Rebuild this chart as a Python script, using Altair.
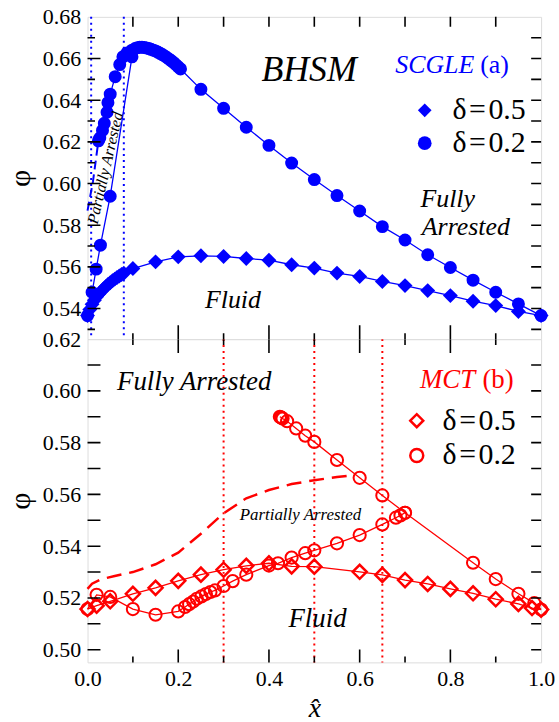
import altair as alt
import pandas as pd

BLUE = "#0000ff"
RED = "#ff0000"
FONT = "Liberation Serif"

W = 456
H_TOP = 324
H_BOT = 325

# ---------------- data ----------------
# (a) SCGLE, delta = 0.5 (filled diamonds)
scgle_d05_x = [0.0, 0.005, 0.01, 0.015, 0.02, 0.025, 0.03, 0.035, 0.04, 0.045, 0.05, 0.055,
               0.06, 0.065, 0.07, 0.075, 0.08, 0.1, 0.15, 0.2, 0.25, 0.3, 0.35, 0.4, 0.45,
               0.5, 0.55, 0.6, 0.65, 0.7, 0.75, 0.8, 0.85, 0.9, 0.95, 1.0]
scgle_d05_phi = [0.5366, 0.5395, 0.5420, 0.5440, 0.5456, 0.5470, 0.5482, 0.5494, 0.5505, 0.5515,
                 0.5524, 0.5533, 0.5541, 0.5549, 0.5556, 0.5563, 0.5569, 0.5592, 0.5624, 0.5648,
                 0.5653, 0.5650, 0.5640, 0.5632, 0.5610, 0.5594, 0.5570, 0.5554, 0.5530, 0.5510,
                 0.5486, 0.5462, 0.5435, 0.5414, 0.5386, 0.5366]

# (a) SCGLE, delta = 0.2: fully arrested branch rising from x = 0
scgle_d02_low_x = [0.0, 0.01, 0.019, 0.0285, 0.05, 0.098]
scgle_d02_low_phi = [0.5366, 0.5478, 0.5589, 0.5704, 0.5939, 0.6608]

# (a) SCGLE, delta = 0.2: upper branch and maximum, decreasing to x = 1
scgle_d02_up_x = [0.024, 0.027, 0.033, 0.037, 0.043, 0.045, 0.05, 0.061, 0.071, 0.078, 0.087, 0.098,
                  0.105, 0.11, 0.115, 0.12, 0.125, 0.13, 0.135, 0.14, 0.145, 0.15, 0.155, 0.16,
                  0.165, 0.17, 0.175, 0.18, 0.185, 0.19, 0.195, 0.2, 0.205,
                  0.25, 0.3, 0.35, 0.4, 0.45, 0.5, 0.55, 0.6, 0.65, 0.7, 0.75, 0.8, 0.85, 0.9,
                  0.95, 1.0]
scgle_d02_up_phi = [0.6205, 0.6218, 0.6255, 0.6289, 0.6342, 0.6388, 0.6429, 0.6513, 0.6571, 0.6608,
                    0.6627, 0.6640, 0.6648, 0.6652, 0.6654, 0.6654, 0.6653, 0.6651, 0.6648, 0.6644,
                    0.6640, 0.6636, 0.6631, 0.6625, 0.6619, 0.6612, 0.6605, 0.6597, 0.6589, 0.6580,
                    0.6570, 0.6560, 0.6550,
                    0.6452, 0.6361, 0.6270, 0.6183, 0.6098, 0.6019, 0.5942, 0.5868, 0.5793, 0.5729,
                    0.5658, 0.5597, 0.5536, 0.5478, 0.5422, 0.5366]

# (a) SCGLE, delta = 0.2: dashed continuation to x = 0
scgle_dash_x = [0.0, 0.012, 0.024]
scgle_dash_phi = [0.5870, 0.6010, 0.6205]

# (a) dotted verticals
scgle_vlines = [0.008, 0.08]

# (b) MCT, delta = 0.5 (open diamonds)
mct_d05_x = [0.0, 0.02, 0.05, 0.1, 0.15, 0.2, 0.25, 0.3, 0.35, 0.4, 0.45, 0.5, 0.6, 0.65, 0.7,
             0.75, 0.8, 0.85, 0.9, 0.95, 0.98, 1.0]
mct_d05_phi = [0.5157, 0.5170, 0.5187, 0.5216, 0.5239, 0.5266, 0.5290, 0.5309, 0.5324, 0.5334,
               0.5322, 0.5321, 0.5301, 0.5289, 0.5269, 0.5254, 0.5235, 0.5218, 0.5195, 0.5177,
               0.5161, 0.5155]

# (b) MCT, delta = 0.2: lower branch
mct_d02_low_x = [0.0, 0.02, 0.05, 0.1, 0.15, 0.2, 0.215, 0.224, 0.233, 0.241, 0.251, 0.261, 0.271,
                 0.281, 0.3, 0.32, 0.35, 0.4, 0.42, 0.45, 0.48, 0.5, 0.55, 0.6, 0.65, 0.68, 0.69, 0.7]
mct_d02_low_phi = [0.5157, 0.5212, 0.5204, 0.5157, 0.5135, 0.5148, 0.5165, 0.5176, 0.5186, 0.5197,
                   0.5206, 0.5215, 0.5223, 0.5229, 0.5246, 0.5265, 0.5290, 0.5325, 0.5334, 0.5356,
                   0.5373, 0.5384, 0.5411, 0.5443, 0.5484, 0.5510, 0.5519, 0.5529]

# (b) MCT, delta = 0.2: upper branch
mct_d02_up_x = [0.424, 0.426, 0.428, 0.43, 0.44, 0.46, 0.48, 0.5, 0.55, 0.6, 0.65, 0.7, 0.85, 0.9,
                0.95, 0.985, 1.0]
mct_d02_up_phi = [0.5900, 0.5898, 0.5896, 0.5893, 0.5883, 0.5855, 0.5827, 0.5803, 0.5733, 0.5664,
                  0.5596, 0.5529, 0.5336, 0.5273, 0.5216, 0.5180, 0.5155]

# (b) MCT partially arrested boundary (dashed)
mct_dash_x = [0.0, 0.01, 0.03, 0.06, 0.1, 0.15, 0.2, 0.25, 0.3, 0.35, 0.4, 0.45, 0.5, 0.55, 0.58]
mct_dash_phi = [0.5235, 0.5255, 0.5272, 0.5285, 0.5300, 0.5330, 0.5375, 0.5448, 0.5527, 0.5585,
                0.5617, 0.5640, 0.5655, 0.5667, 0.5673]

# (b) dotted verticals
mct_vlines = [0.3, 0.5, 0.65]

legend_labels = ["δ\u200a=\u200a0.5", "δ\u200a=\u200a0.2"]

# axes: labels and tick positions
x_labels = [0.0, 0.2, 0.4, 0.6, 0.8, 1.0]
x_tick_major = [0.2, 0.4, 0.6, 0.8]
x_tick_minor = [0.1, 0.3, 0.5, 0.7, 0.9]
top_y_labels = [0.54, 0.56, 0.58, 0.60, 0.62, 0.64, 0.66, 0.68]
top_y_major = [0.54, 0.56, 0.58, 0.60, 0.62, 0.64, 0.66]
top_y_minor = [0.53, 0.55, 0.57, 0.59, 0.61, 0.63, 0.65, 0.67]
bot_y_labels = [0.50, 0.52, 0.54, 0.56, 0.58, 0.60, 0.62]
bot_y_major = [0.50, 0.52, 0.54, 0.56, 0.58, 0.60]
bot_y_minor = [0.51, 0.53, 0.55, 0.57, 0.59, 0.61]

TOP_DOMAIN = [0.5253, 0.68]
BOT_DOMAIN = [0.4951, 0.62]

# annotations: (text, x, phi)
top_notes = {
    "bhsm": ("BHSM", 0.4885, 0.6493),
    "scgle": ("SCGLE", 0.6784, 0.6532),
    "a": ("(a)", 0.8656, 0.6532),
    "fully": ("Fully", 0.734, 0.5888),
    "arrested": ("Arrested", 0.737, 0.5753),
    "fluid": ("Fluid", 0.2588, 0.5401),
    "partial": ("Partially Arrested", 0.0394, 0.6075),
}
bot_notes = {
    "fully": ("Fully Arrested", 0.065, 0.6005),
    "mct": ("MCT", 0.733, 0.6011),
    "b": ("(b)", 0.8706, 0.6011),
    "partial": ("Partially Arrested", 0.3355, 0.5501),
    "fluid": ("Fluid", 0.443, 0.5089),
}


def frame(xs, ys, series, delta):
    return pd.DataFrame({"x": xs, "phi": ys, "series": series, "delta": delta,
                         "ord": list(range(len(xs)))})


XSCALE = alt.Scale(domain=[0, 1], nice=False, zero=False)


def y_axis(values, h):
    return alt.Axis(values=values, format=".2f", ticks=False, tickSize=0, domain=False, grid=False,
                    labelFont=FONT, labelFontSize=22, labelColor="black", labelPadding=7,
                    labelOverlap=False,
                    title="φ", titleFont=FONT, titleFontSize=30, titleFontWeight="normal",
                    titleColor="black", titleAngle=270, titleX=-67, titleY=h / 2,
                    titleBaseline="middle", titleAlign="center")


X_AXIS_BOTTOM = alt.Axis(values=x_labels, format=".1f", ticks=False, tickSize=0, domain=False,
                         grid=False, labelFlush=False, labelOverlap=False, labelFont=FONT,
                         labelFontSize=22, labelColor="black", labelPadding=6,
                         title="x\u0302", titleFont=FONT, titleFontSize=28,
                         titleFontStyle="italic", titleFontWeight="normal", titleColor="black",
                         titleY=54, titleX=W / 2, titleBaseline="alphabetic",
                         titleAlign="center")


def panel(yscale, yaxis, xaxis, h, layers_fn):
    X = lambda f="x": alt.X(f"{f}:Q", scale=XSCALE, axis=xaxis)
    Y = lambda f="phi": alt.Y(f"{f}:Q", scale=yscale, axis=yaxis)
    return layers_fn(X, Y)


def ticks_x(vals, X, ypx, L):
    return alt.Chart(pd.DataFrame({"x": vals})).mark_tick(
        orient="vertical", size=2 * L, thickness=1.6, color="black", clip=True, opacity=1
    ).encode(x=X(), y=alt.value(ypx))


def ticks_y(vals, Y, xpx, L):
    return alt.Chart(pd.DataFrame({"phi": vals})).mark_tick(
        orient="horizontal", size=2 * L, thickness=1.6, color="black", clip=True, opacity=1
    ).encode(y=Y(), x=alt.value(xpx))


def note(item, X, Y, size, color="black", style="italic", align="left", angle=0,
         baseline="alphabetic"):
    t, x, y = item
    df = pd.DataFrame({"x": [x], "phi": [y], "t": [t]})
    return alt.Chart(df).mark_text(font=FONT, fontSize=size, fontStyle=style, color=color,
                                   align=align, baseline=baseline, angle=angle).encode(
        x=X(), y=Y(), text="t:N")


shape_scale = alt.Scale(domain=legend_labels, range=["diamond", "circle"])

# ---------------- top panel (SCGLE) ----------------
top_yscale = alt.Scale(domain=TOP_DOMAIN, nice=False, zero=False)
top_yaxis = y_axis(top_y_labels, H_TOP)

top_lines_df = pd.concat([
    frame(scgle_d05_x, scgle_d05_phi, "d05", legend_labels[0]),
    frame(scgle_d02_low_x, scgle_d02_low_phi, "d02low", legend_labels[1]),
    frame(scgle_d02_up_x, scgle_d02_up_phi, "d02up", legend_labels[1]),
])
top_dash_df = frame(scgle_dash_x, scgle_dash_phi, "dash", legend_labels[1])
top_circ_df = top_lines_df[top_lines_df["delta"] == legend_labels[1]]
top_diam_df = top_lines_df[top_lines_df["delta"] == legend_labels[0]]


def top_layers(X, Y):
    rules = alt.Chart(pd.DataFrame({"x": scgle_vlines})).mark_rule(
        color=BLUE, strokeDash=[2, 4], strokeWidth=2).encode(x=X())
    dash = alt.Chart(top_dash_df).mark_line(color=BLUE, strokeDash=[9, 5], strokeWidth=2).encode(
        x=X(), y=Y(), order="ord:Q")
    lines = alt.Chart(top_lines_df).mark_line(color=BLUE, strokeWidth=1.3).encode(
        x=X(), y=Y(), detail="series:N", order="ord:Q")
    legend = alt.Legend(orient="none", legendX=324, legendY=79, title=None, padding=0,
                        labelFont=FONT, labelFontSize=30, labelColor="black", labelOffset=13,
                        symbolSize=190, symbolFillColor=BLUE, symbolStrokeColor=BLUE,
                        symbolStrokeWidth=0, rowPadding=3, labelLimit=200)
    diam = alt.Chart(top_diam_df).mark_point(filled=True, color=BLUE, size=225, opacity=1).encode(
        x=X(), y=Y(), shape=alt.Shape("delta:N", scale=shape_scale, legend=legend))
    circ = alt.Chart(top_circ_df).mark_point(filled=True, color=BLUE, size=170, opacity=1).encode(
        x=X(), y=Y(), shape=alt.Shape("delta:N", scale=shape_scale, legend=legend))
    texts = [
        note(top_notes["bhsm"], X, Y, 36, align="center"),
        note(top_notes["scgle"], X, Y, 26, color=BLUE),
        note(top_notes["a"], X, Y, 26, color=BLUE, style="normal"),
        note(top_notes["fully"], X, Y, 26),
        note(top_notes["arrested"], X, Y, 26),
        note(top_notes["fluid"], X, Y, 26),
        note(top_notes["partial"], X, Y, 16, align="center", angle=283, baseline="middle"),
    ]
    ticks = [
        ticks_x(x_tick_major + x_tick_minor, X, 0, 10),
        ticks_x(x_tick_major, X, H_TOP, 14),
        ticks_x(x_tick_minor, X, H_TOP, 6),
        ticks_y(top_y_major, Y, 0, 13),
        ticks_y(top_y_minor, Y, 0, 7.5),
        ticks_y(top_y_major + top_y_minor, Y, W, 10),
    ]
    return alt.layer(rules, dash, lines, diam, circ, *texts, *ticks).properties(
        width=W, height=H_TOP)


top = panel(top_yscale, top_yaxis, None, H_TOP, top_layers)

# ---------------- bottom panel (MCT) ----------------
bot_yscale = alt.Scale(domain=BOT_DOMAIN, nice=False, zero=False)
bot_yaxis = y_axis(bot_y_labels, H_BOT)

bot_lines_df = pd.concat([
    frame(mct_d05_x, mct_d05_phi, "d05", legend_labels[0]),
    frame(mct_d02_low_x, mct_d02_low_phi, "d02low", legend_labels[1]),
    frame(mct_d02_up_x, mct_d02_up_phi, "d02up", legend_labels[1]),
])
bot_dash_df = frame(mct_dash_x, mct_dash_phi, "dash", legend_labels[1])
bot_circ_df = bot_lines_df[bot_lines_df["delta"] == legend_labels[1]]
bot_diam_df = bot_lines_df[bot_lines_df["delta"] == legend_labels[0]]


def bot_layers(X, Y):
    rules = alt.Chart(pd.DataFrame({"x": mct_vlines})).mark_rule(
        color=RED, strokeDash=[2, 4], strokeWidth=2).encode(x=X())
    dash = alt.Chart(bot_dash_df).mark_line(color=RED, strokeDash=[15, 8], strokeWidth=2.5).encode(
        x=X(), y=Y(), order="ord:Q")
    lines = alt.Chart(bot_lines_df).mark_line(color=RED, strokeWidth=1.3).encode(
        x=X(), y=Y(), detail="series:N", order="ord:Q")
    legend = alt.Legend(orient="none", legendX=316, legendY=67, title=None, padding=0,
                        labelFont=FONT, labelFontSize=30, labelColor="black", labelOffset=11,
                        symbolSize=170, symbolType="circle", symbolFillColor="transparent",
                        symbolStrokeColor=RED, symbolStrokeWidth=2.5, symbolOpacity=1,
                        rowPadding=5, labelLimit=200)
    diam = alt.Chart(bot_diam_df).mark_point(filled=False, color=RED, size=200, strokeWidth=2.5,
                                             opacity=1).encode(
        x=X(), y=Y(), shape=alt.Shape("delta:N", scale=shape_scale, legend=legend))
    circ = alt.Chart(bot_circ_df).mark_point(filled=False, color=RED, size=150, strokeWidth=2,
                                             opacity=1).encode(
        x=X(), y=Y(), shape=alt.Shape("delta:N", scale=shape_scale, legend=legend))
    texts = [
        note(bot_notes["fully"], X, Y, 27),
        note(bot_notes["mct"], X, Y, 27, color=RED),
        note(bot_notes["b"], X, Y, 27, color=RED, style="normal"),
        note(bot_notes["partial"], X, Y, 17),
        note(bot_notes["fluid"], X, Y, 27),
    ]
    ticks = [
        ticks_x(x_tick_major, X, 0, 14),
        ticks_x(x_tick_minor, X, 0, 6),
        ticks_x(x_tick_major, X, H_BOT, 13),
        ticks_x(x_tick_minor, X, H_BOT, 6),
        ticks_y(bot_y_major + bot_y_minor, Y, 0, 13),
        ticks_y(bot_y_major + bot_y_minor, Y, W, 10),
    ]
    return alt.layer(rules, dash, lines, diam, circ, *texts, *ticks).properties(
        width=W, height=H_BOT)


bottom = panel(bot_yscale, bot_yaxis, X_AXIS_BOTTOM, H_BOT, bot_layers)

chart = alt.vconcat(top, bottom, spacing=0, bounds="flush").resolve_scale(
    x="independent", y="independent", shape="independent"
).resolve_legend(shape="independent").properties(
    padding={"left": 5, "top": 3, "right": 3, "bottom": 0}
).configure_view(stroke="black", strokeWidth=3).configure(background="white")

chart.save("out.html", embed_options={"renderer": "svg", "actions": False})
